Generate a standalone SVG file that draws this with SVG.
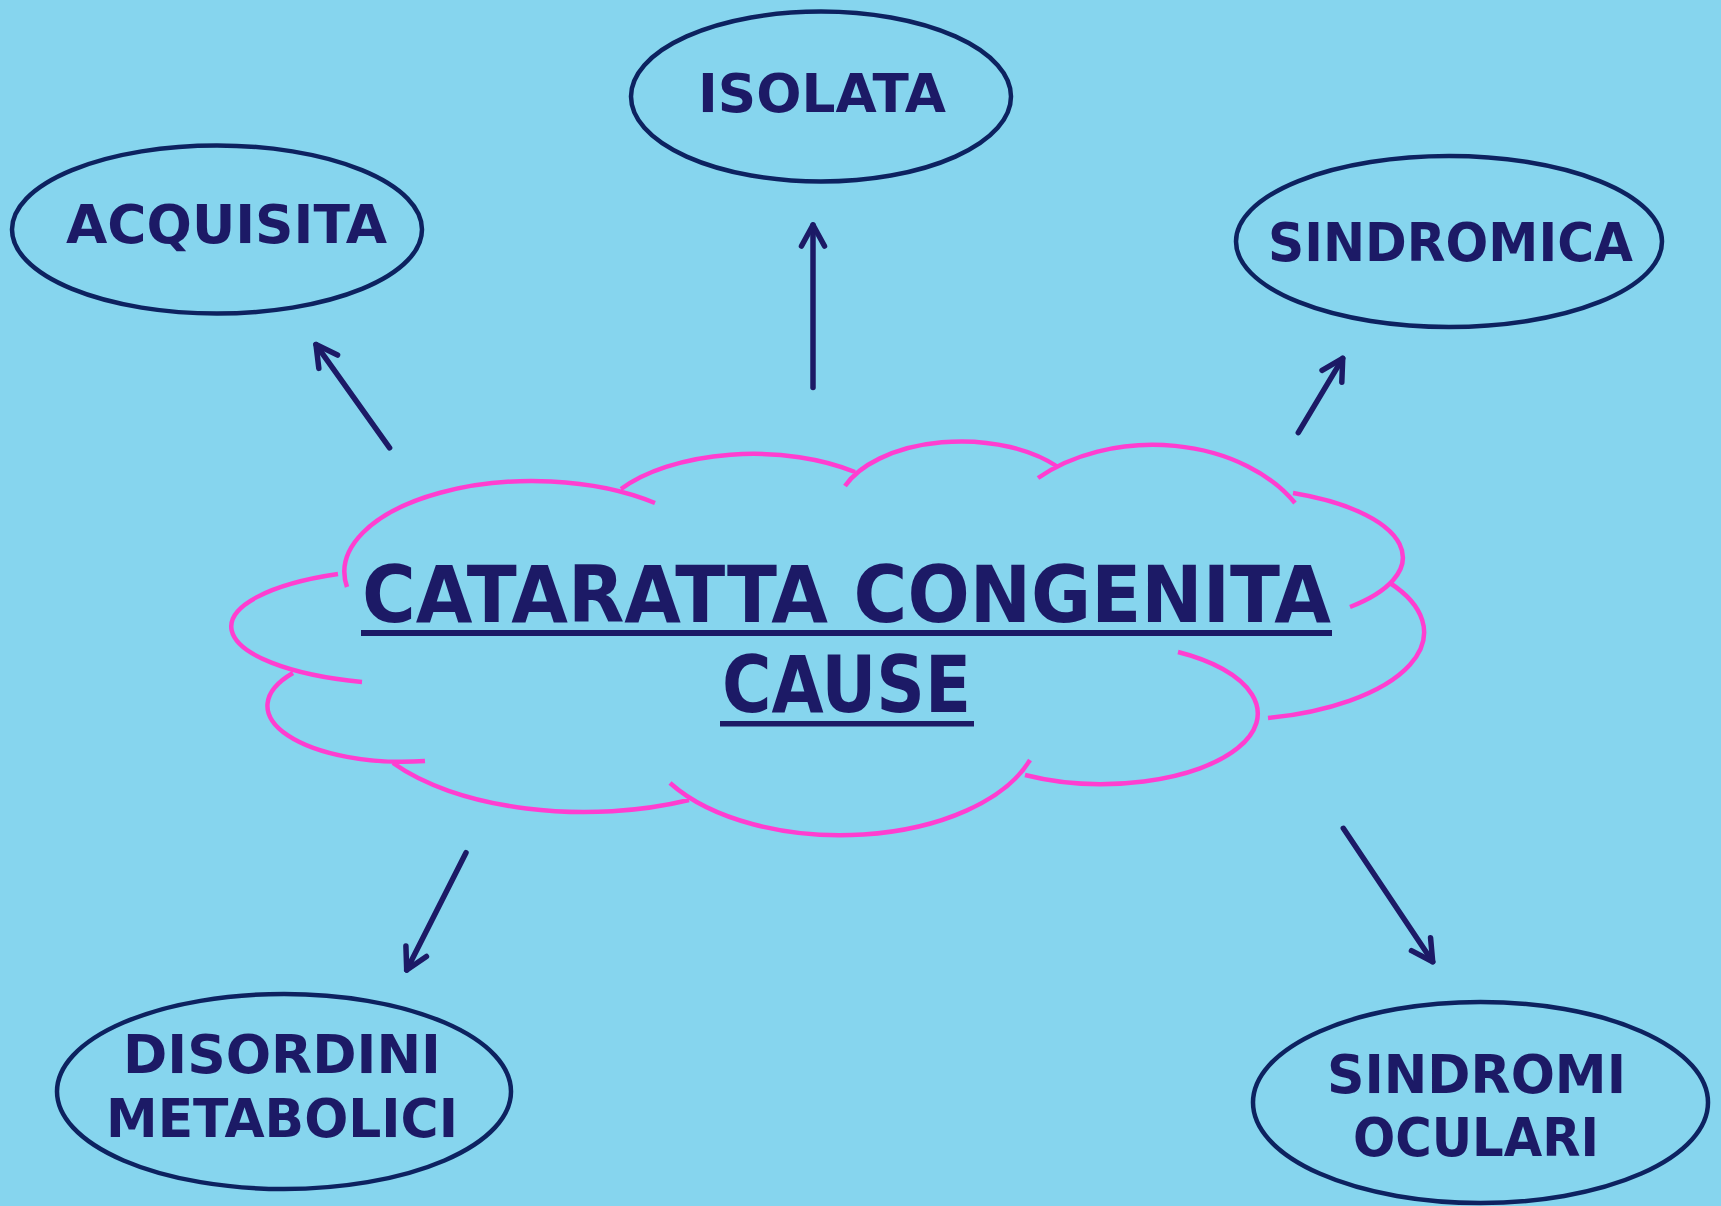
<svg xmlns="http://www.w3.org/2000/svg" width="1721" height="1206" viewBox="0 0 1721 1206">
<defs>
<style>
.bg{fill:#86D5EE}
.node ellipse{fill:none;stroke:#0D2260;stroke-width:4.5}
.lbl{font-family:"DejaVu Sans","Liberation Sans",sans-serif;font-weight:bold;fill:#1C1A66;text-anchor:middle}
.conn line{stroke:#1C1A66;stroke-width:5.5;stroke-linecap:round;marker-end:url(#arr)}
.cloud{fill:none;stroke:#FF3ED0;stroke-width:4.5}
.ul{fill:#1C1A66}
</style>
<marker id="arr" markerUnits="userSpaceOnUse" viewBox="-28 -16 32 32" refX="0" refY="0" markerWidth="32" markerHeight="32" orient="auto">
<path d="M -21 -11.5 L 0 0 L -21 11.5" fill="none" stroke="#1C1A66" stroke-width="5.5" stroke-linecap="round" stroke-linejoin="round"/>
</marker>
</defs>
<rect class="bg" x="0" y="0" width="1721" height="1206"/>

<g id="center">
<path class="cloud" d="M 347 587 A 188 91 0 0 1 655 503
M 621 489 A 160 80 0 0 1 855 472
M 845 486 A 125 70 0 0 1 1058 467
M 1038 478 A 165 118 0 0 1 1295 503
M 1293 493 A 180 70 0 0 1 1350 607
M 1390 583 A 200 88 0 0 1 1268 718
M 1178 652 A 155 70 0 1 1 1025 775
M 1030 760 A 200 110 0 0 1 670 783
M 689 800 A 230 110 0 0 1 393 763
M 425 761 A 135 56 0 0 1 293 673
M 362 682 A 185 58 0 0 1 338 574"/>
<text class="lbl" x="846.5" y="622" font-size="78" textLength="969" lengthAdjust="spacingAndGlyphs">CATARATTA CONGENITA</text>
<rect class="ul" x="361" y="630" width="971" height="6"/>
<text class="lbl" x="846.5" y="712" font-size="78" textLength="249" lengthAdjust="spacingAndGlyphs">CAUSE</text>
<rect class="ul" x="720" y="721" width="254" height="5.5"/>
</g>

<g id="isolata" class="node">
<ellipse cx="821" cy="96.5" rx="190" ry="85"/>
<text class="lbl" x="822" y="112" font-size="54" textLength="248" lengthAdjust="spacingAndGlyphs">ISOLATA</text>
</g>

<g id="acquisita" class="node">
<ellipse cx="217" cy="229.5" rx="205" ry="84"/>
<text class="lbl" x="226.5" y="243" font-size="54" textLength="321" lengthAdjust="spacingAndGlyphs">ACQUISITA</text>
</g>

<g id="sindromica" class="node">
<ellipse cx="1449" cy="241.5" rx="213" ry="85.5"/>
<text class="lbl" x="1450.5" y="261" font-size="54" textLength="365" lengthAdjust="spacingAndGlyphs">SINDROMICA</text>
</g>

<g id="disordini" class="node">
<ellipse cx="284" cy="1091.5" rx="227" ry="97.5"/>
<text class="lbl" x="282" y="1073" font-size="54" textLength="318" lengthAdjust="spacingAndGlyphs">DISORDINI</text>
<text class="lbl" x="282" y="1137" font-size="54" textLength="352" lengthAdjust="spacingAndGlyphs">METABOLICI</text>
</g>

<g id="sindromi" class="node">
<ellipse cx="1480.5" cy="1102.5" rx="227.5" ry="100.5"/>
<text class="lbl" x="1476.5" y="1093" font-size="54" textLength="299" lengthAdjust="spacingAndGlyphs">SINDROMI</text>
<text class="lbl" x="1476" y="1156" font-size="54" textLength="246" lengthAdjust="spacingAndGlyphs">OCULARI</text>
</g>

<g id="connectors" class="conn">
<line x1="389.6" y1="447.8" x2="316" y2="344.6"/>
<line x1="813" y1="387.5" x2="813" y2="225"/>
<line x1="1298.3" y1="432.7" x2="1342.7" y2="358.3"/>
<line x1="466" y1="852.7" x2="406.7" y2="970"/>
<line x1="1343.3" y1="828.3" x2="1432.7" y2="961.7"/>
</g>
</svg>
